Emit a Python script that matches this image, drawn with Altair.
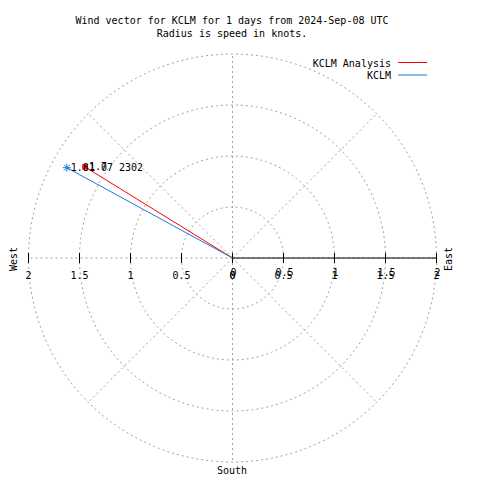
import altair as alt
import numpy as np
import pandas as pd

# ---- data ----
series = ["KCLM Analysis", "KCLM"]
speeds = [1.70, 1.85]            # knots (radius)
angles = [148.3, 151.4]          # math angle, degrees from east, counter-clockwise
tip_labels = ["1.7", "1.81 07 2302"]
colors = ["#ff0000", "#1f78d8"]

grid_radii = [0.5, 1.0, 1.5, 2.0]
grid_angles = [0, 45, 90, 135, 180, 225, 270, 315]
tick_values = [0, 0.5, 1, 1.5, 2]
tick_labels = ["0", "0.5", "1", "1.5", "2"]

FONT = "DejaVu Sans Mono"
W, H = 464, 472
xs = alt.Scale(domain=[-2.201, 2.348], nice=False, zero=False)
ys = alt.Scale(domain=[-2.176, 2.451], nice=False, zero=False)

# grid circles
t = np.linspace(0, 2 * np.pi, 241)
circ = pd.DataFrame(
    [{"r": r, "i": i, "x": r * np.cos(a), "y": r * np.sin(a)}
     for r in grid_radii for i, a in enumerate(t)]
)
circles = alt.Chart(circ).mark_line(
    strokeDash=[2, 3], color="#a0a0a0", strokeWidth=1
).encode(
    x=alt.X("x:Q", scale=xs, axis=None),
    y=alt.Y("y:Q", scale=ys, axis=None),
    detail="r:N", order="i:Q",
)

# radial grid lines
rad = pd.DataFrame(
    [{"a": a, "i": k, "x": k * 2 * np.cos(np.radians(a)), "y": k * 2 * np.sin(np.radians(a))}
     for a in grid_angles for k in (0, 1)]
)
radials = alt.Chart(rad).mark_line(
    strokeDash=[2, 3], color="#a0a0a0", strokeWidth=1
).encode(
    x=alt.X("x:Q", scale=xs), y=alt.Y("y:Q", scale=ys), detail="a:N", order="i:Q"
)

# solid east axis
east_axis = alt.Chart(pd.DataFrame({"x": [0], "x2": [2], "y": [0]})).mark_rule(
    color="black", strokeWidth=1
).encode(x=alt.X("x:Q", scale=xs), x2="x2:Q", y=alt.Y("y:Q", scale=ys))

# tick marks on both sides
tk = pd.DataFrame({"x": [v for v in tick_values] + [-v for v in tick_values[1:]], "y": 0.0})
ticks = alt.Chart(tk).mark_point(
    shape="M0,-1L0,1", size=100, filled=False, color="black", strokeWidth=1, opacity=1
).encode(x=alt.X("x:Q", scale=xs), y=alt.Y("y:Q", scale=ys))

# tick labels: west side and (doubled) east side
west_lab = pd.DataFrame({"x": [-v for v in tick_values], "lab": tick_labels, "y": 0.0})
east_lab = pd.DataFrame({"x": tick_values, "lab": tick_labels, "y": 0.0})
wl = alt.Chart(west_lab).mark_text(font=FONT, fontSize=10, dy=18, baseline="middle", color="black").encode(
    x=alt.X("x:Q", scale=xs), y=alt.Y("y:Q", scale=ys), text="lab:N")
el1 = alt.Chart(east_lab).mark_text(font=FONT, fontSize=10, dy=18, baseline="middle", color="black").encode(
    x=alt.X("x:Q", scale=xs), y=alt.Y("y:Q", scale=ys), text="lab:N")
el2 = alt.Chart(east_lab).mark_text(font=FONT, fontSize=10, dy=15, dx=1, baseline="middle", color="black").encode(
    x=alt.X("x:Q", scale=xs), y=alt.Y("y:Q", scale=ys), text="lab:N")

# vectors
rows = []
for s, sp, an, lab in zip(series, speeds, angles, tip_labels):
    ex, ey = sp * np.cos(np.radians(an)), sp * np.sin(np.radians(an))
    rows.append({"series": s, "i": 0, "x": 0.0, "y": 0.0, "lab": ""})
    rows.append({"series": s, "i": 1, "x": ex, "y": ey, "lab": lab})
vec = pd.DataFrame(rows)
cscale = alt.Scale(domain=series, range=colors)
lines = alt.Chart(vec).mark_line(strokeWidth=1).encode(
    x=alt.X("x:Q", scale=xs), y=alt.Y("y:Q", scale=ys),
    color=alt.Color("series:N", scale=cscale, legend=None),
    detail="series:N", order="i:Q",
)
tips = vec[vec["i"] == 1]
red_pt = alt.Chart(tips[tips["series"] == series[0]]).mark_point(
    shape="square", filled=True, size=30, color=colors[0], opacity=1
).encode(x=alt.X("x:Q", scale=xs), y=alt.Y("y:Q", scale=ys))
blue_pt = alt.Chart(tips[tips["series"] == series[1]]).mark_point(
    shape="M-1,0L1,0M0,-1L0,1M-0.7,-0.7L0.7,0.7M-0.7,0.7L0.7,-0.7",
    filled=False, size=64, color=colors[1], strokeWidth=1, opacity=1
).encode(x=alt.X("x:Q", scale=xs), y=alt.Y("y:Q", scale=ys))
tip_text = alt.Chart(tips).mark_text(
    font=FONT, fontSize=10, align="left", baseline="middle", dx=4, color="black"
).encode(x=alt.X("x:Q", scale=xs), y=alt.Y("y:Q", scale=ys), text="lab:N")

# annotations
def txt(s, x, y, **kw):
    return alt.Chart(pd.DataFrame({"t": [s]})).mark_text(
        font=FONT, fontSize=10, color="black", baseline="middle", **kw
    ).encode(x=alt.value(x), y=alt.value(y), text="t:N")

title1 = txt("Wind vector for KCLM for 1 days from 2024-Sep-08 UTC", 224, 13, align="center")
title2 = txt("Radius is speed in knots.", 224, 25.5, align="center")
leg1 = txt(series[0], 383, 55.5, align="right")
leg2 = txt(series[1], 383, 68, align="right")
leg_l1 = alt.Chart(pd.DataFrame({"a": [0]})).mark_rule(color=colors[0], strokeWidth=1).encode(
    x=alt.value(390), x2=alt.value(419), y=alt.value(54.5))
leg_l2 = alt.Chart(pd.DataFrame({"a": [0]})).mark_rule(color=colors[1], strokeWidth=1).encode(
    x=alt.value(390), x2=alt.value(419), y=alt.value(67))
west = txt("West", 6, 251, align="center", angle=270)
east = txt("East", 440.5, 251, align="center", angle=270)
south = txt("South", 224, 463, align="center")

chart = alt.layer(
    circles, radials, east_axis, ticks, wl, el1, el2, lines, red_pt, blue_pt, tip_text,
    title1, title2, leg1, leg2, leg_l1, leg_l2, west, east, south
).properties(
    width=W, height=H, padding=0, autosize=alt.AutoSizeParams(type="none"),
    background="white",
).configure_view(stroke=None)

chart.save("out.html", embed_options={"renderer": "svg", "actions": False})
